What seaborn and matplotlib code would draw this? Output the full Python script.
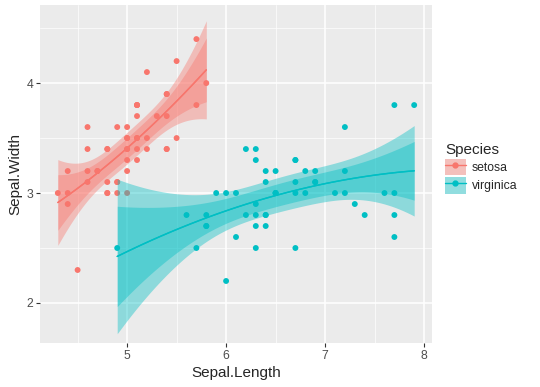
import numpy as np
import pandas as pd
import seaborn as sns
import matplotlib.pyplot as plt
from matplotlib.patches import Patch
from matplotlib.lines import Line2D

# iris: setosa / virginica sepal measurements
setosa_length = [5.1, 4.9, 4.7, 4.6, 5.0, 5.4, 4.6, 5.0, 4.4, 4.9, 5.4, 4.8, 4.8, 4.3, 5.8, 5.7, 5.4,
                 5.1, 5.7, 5.1, 5.4, 5.1, 4.6, 5.1, 4.8, 5.0, 5.0, 5.2, 5.2, 4.7, 4.8, 5.4, 5.2, 5.5,
                 4.9, 5.0, 5.5, 4.9, 4.4, 5.1, 5.0, 4.5, 4.4, 5.0, 5.1, 4.8, 5.1, 4.6, 5.3, 5.0]
setosa_width = [3.5, 3.0, 3.2, 3.1, 3.6, 3.9, 3.4, 3.4, 2.9, 3.1, 3.7, 3.4, 3.0, 3.0, 4.0, 4.4, 3.9,
                3.5, 3.8, 3.8, 3.4, 3.7, 3.6, 3.3, 3.4, 3.0, 3.4, 3.5, 3.4, 3.2, 3.1, 3.4, 4.1, 4.2,
                3.1, 3.2, 3.5, 3.6, 3.0, 3.4, 3.5, 2.3, 3.2, 3.5, 3.8, 3.0, 3.8, 3.2, 3.7, 3.3]
virginica_length = [6.3, 5.8, 7.1, 6.3, 6.5, 7.6, 4.9, 7.3, 6.7, 7.2, 6.5, 6.4, 6.8, 5.7, 5.8, 6.4, 6.5,
                    7.7, 7.7, 6.0, 6.9, 5.6, 7.7, 6.3, 6.7, 7.2, 6.2, 6.1, 6.4, 7.2, 7.4, 7.9, 6.4, 6.3,
                    6.1, 7.7, 6.3, 6.4, 6.0, 6.9, 6.7, 6.9, 5.8, 6.8, 6.7, 6.7, 6.3, 6.5, 6.2, 5.9]
virginica_width = [3.3, 2.7, 3.0, 2.9, 3.0, 3.0, 2.5, 2.9, 2.5, 3.6, 3.2, 2.7, 3.0, 2.5, 2.8, 3.2, 3.0,
                   3.8, 2.6, 2.2, 3.2, 2.8, 2.8, 2.7, 3.3, 3.2, 2.8, 3.0, 2.8, 3.0, 2.8, 3.8, 2.8, 2.8,
                   2.6, 3.0, 3.4, 3.1, 3.0, 3.1, 3.1, 3.1, 2.7, 3.2, 3.3, 3.0, 2.5, 3.0, 3.4, 3.0]
species = ["setosa", "virginica"]
colors = ["#F8766D", "#00BFC4"]
levels_t = [2.012, 3.1]  # t(47) multipliers: 95% band and ~99.7% band

df = pd.DataFrame({
    "Sepal.Length": setosa_length + virginica_length,
    "Sepal.Width": setosa_width + virginica_width,
    "Species": ["setosa"] * len(setosa_length) + ["virginica"] * len(virginica_length),
})


def quad_fit(x, y, grid):
    # y ~ poly(x, 2) with standard error of the fitted mean
    X = np.column_stack([np.ones_like(x), x, x ** 2])
    beta, *_ = np.linalg.lstsq(X, y, rcond=None)
    s2 = np.sum((y - X @ beta) ** 2) / (len(x) - 3)
    G = np.column_stack([np.ones_like(grid), grid, grid ** 2])
    cov = np.linalg.inv(X.T @ X) * s2
    se = np.sqrt(np.einsum("ij,jk,ik->i", G, cov, G))
    return G @ beta, se


sns.set_style("darkgrid")
plt.rcParams["font.family"] = ["Liberation Sans", "DejaVu Sans"]
fig = plt.figure(figsize=(5.4, 3.87), dpi=100)
ax = fig.add_axes([40 / 540, 44 / 387, 392 / 540, 338 / 387])
ax.set_facecolor("#EBEBEB")

sns.scatterplot(data=df, x="Sepal.Length", y="Sepal.Width", hue="Species", palette=colors,
                s=18, linewidth=0, legend=False, ax=ax, zorder=3)

fits = []
for sp in species:
    sub = df[df["Species"] == sp]
    x = sub["Sepal.Length"].to_numpy()
    y = sub["Sepal.Width"].to_numpy()
    grid = np.linspace(x.min(), x.max(), 80)
    fit, se = quad_fit(x, y, grid)
    fits.append(pd.DataFrame({"Sepal.Length": grid, "Sepal.Width": fit, "se": se, "Species": sp}))
fits = pd.concat(fits)

for t in levels_t:
    for sp, c in zip(species, colors):
        f = fits[fits["Species"] == sp]
        ax.fill_between(f["Sepal.Length"], f["Sepal.Width"] - t * f["se"], f["Sepal.Width"] + t * f["se"],
                        color=c, alpha=0.4, linewidth=0, zorder=4)
    sns.lineplot(data=fits, x="Sepal.Length", y="Sepal.Width", hue="Species", palette=colors,
                 linewidth=1.0, legend=False, ax=ax, zorder=5)

ax.set_xlim(4.12, 8.08)
ax.set_ylim(1.636, 4.71)
ax.set_xticks([5, 6, 7, 8])
ax.set_yticks([2, 3, 4])
ax.set_xticks([4.5, 5.5, 6.5, 7.5], minor=True)
ax.set_yticks([2.5, 3.5, 4.5], minor=True)
ax.grid(which="major", color="white", linewidth=1.1)
ax.grid(which="minor", color="white", linewidth=0.5)
for sp_ in ax.spines.values():
    sp_.set_visible(False)
ax.tick_params(which="major", length=3, width=0.8, color="#333333", labelsize=8.8,
               labelcolor="#4D4D4D", pad=2, bottom=True, left=True)
ax.tick_params(which="minor", length=0)
ax.set_xlabel("Sepal.Length", fontsize=11, labelpad=3)
ax.set_ylabel("Sepal.Width", fontsize=11, labelpad=3)

handles = [(Patch(facecolor="#F2F2F2", edgecolor="none"),
            Patch(facecolor=c, alpha=0.4, edgecolor="none"),
            Line2D([], [], color=c, linewidth=1.0, marker="o", markersize=3.5))
           for c in colors]
fig.legend(handles, species, title="Species", loc="upper left", bbox_to_anchor=(440 / 540, 1 - 138 / 387),
           frameon=False, fontsize=8.8, title_fontsize=11, handlelength=1.7, handleheight=1.7,
           handletextpad=0.5, labelspacing=0.15, borderaxespad=0, alignment="left")

plt.savefig("out.png", dpi=100)
